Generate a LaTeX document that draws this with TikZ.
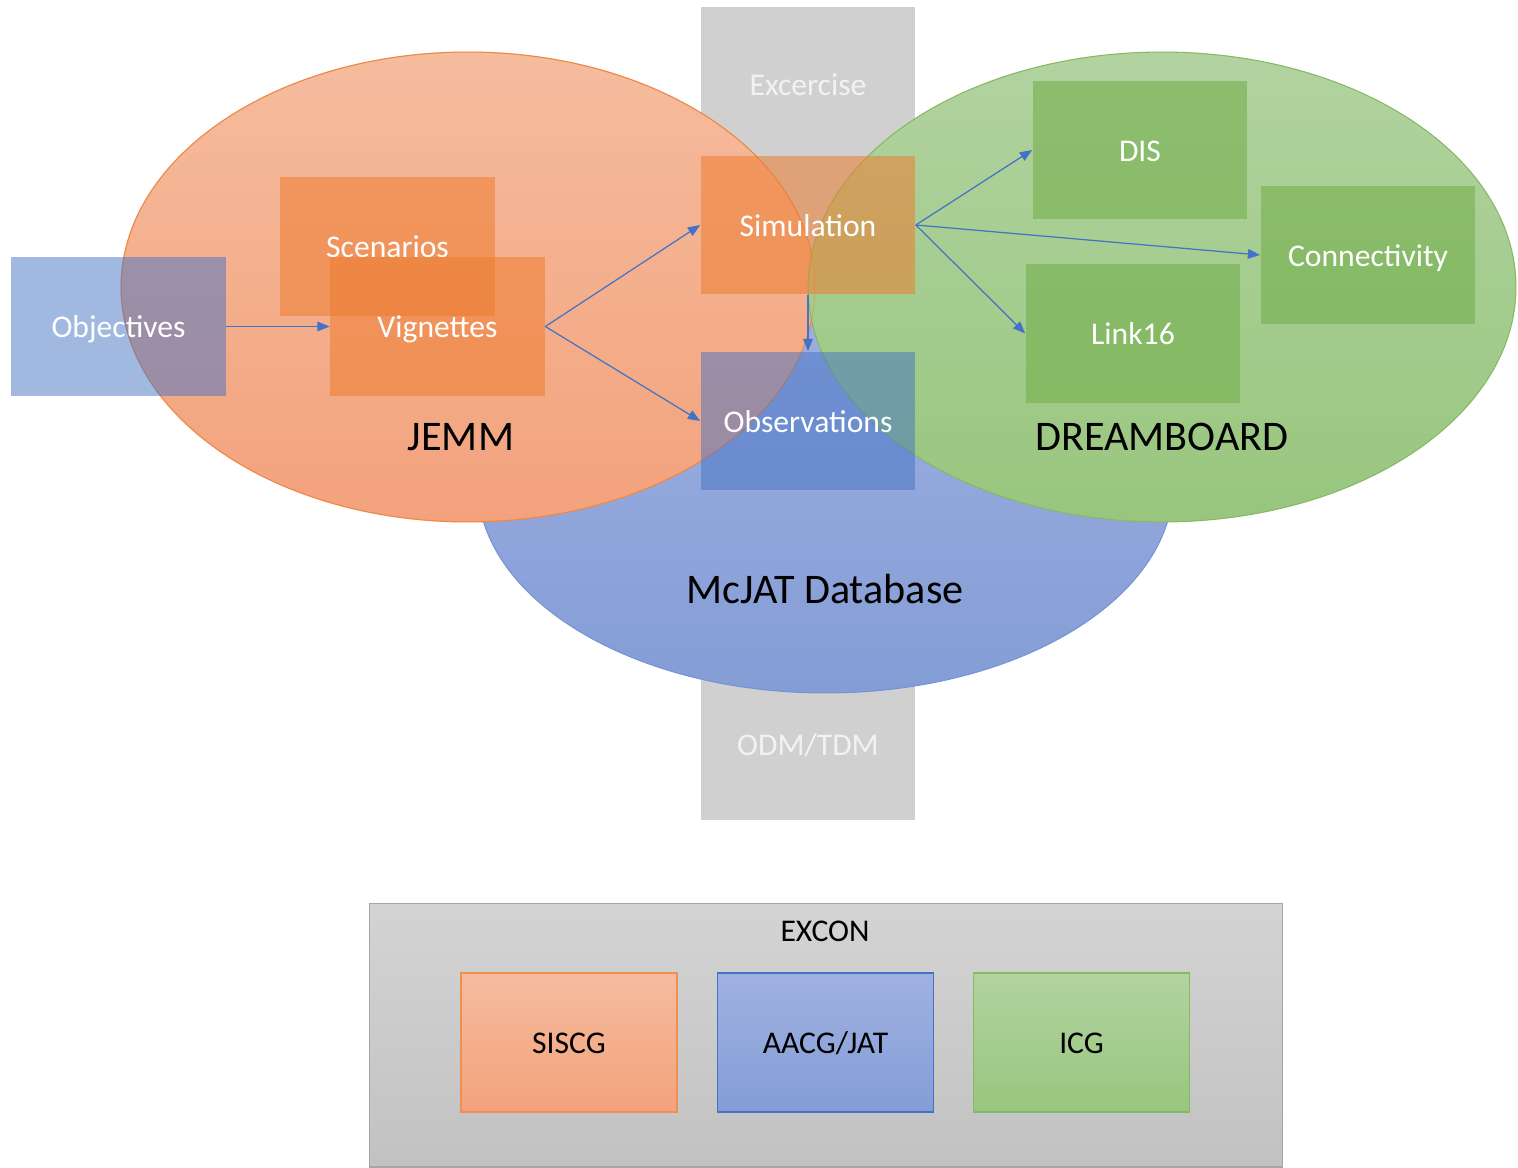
\documentclass[tikz,border=0pt]{standalone}
\usepackage{fontspec}
\setmainfont{Carlito}
\usetikzlibrary{arrows.meta,shapes.geometric}

\definecolor{orangeA}{HTML}{ED7D31}
\definecolor{blueA}{HTML}{4472C4}
\definecolor{greenA}{HTML}{70AD47}
\definecolor{columngray}{HTML}{D0D0D0}
\definecolor{labelwhite}{HTML}{F2F2F2}
\definecolor{orangeTop}{HTML}{F5BC9E}
\definecolor{orangeBot}{HTML}{F3A27C}
\definecolor{greenTop}{HTML}{B2D3A0}
\definecolor{greenBot}{HTML}{98C67E}
\definecolor{blueTop}{HTML}{A0B1E1}
\definecolor{blueBot}{HTML}{849DD6}

\tikzset{
  column/.style={fill=columngray, draw=none, minimum width=4.28cm, minimum height=16.26cm, inner sep=0pt},
  collabel/.style={text=labelwhite, font=\fontsize{18}{20}\selectfont, inner sep=0pt},
  region/.style={ellipse, inner sep=0pt, line width=0.6pt},
  biglabel/.style={text=black, font=\fontsize{24}{28}\selectfont, inner sep=0pt},
  box/.style={minimum width=4.30cm, minimum height=2.78cm, inner sep=0pt, draw=none,
              text height=12.8pt, text depth=0pt,
              fill opacity=0.55, text opacity=1, text=white, font=\fontsize{18}{20}\selectfont},
  orangebox/.style={box, fill=orangeA},
  bluebox/.style={box, fill=blueA, fill opacity=0.5},
  greenbox/.style={box, fill=greenA},
  groupbox/.style={minimum width=4.32cm, minimum height=2.78cm, inner sep=0pt, line width=0.6pt,
                   text height=12.8pt, text depth=0pt,
                   text=black, font=\fontsize{18}{20}\selectfont},
  flow/.style={draw=blueA, line width=0.7pt, -{Triangle[length=7pt,width=5.5pt]}},
}

\begin{document}
\begin{tikzpicture}[x=0.02cm, y=-0.02cm]
\useasboundingbox (0,0) rectangle (1518,1168);

% vertical exercise column
\node[column] (col) at (808,413.5) {};
\node[collabel] (exc) at (808,85) {Excercise};
\node[collabel] (odm) at (808,745) {ODM/TDM};

% overlapping regions
\node[region, minimum width=13.92cm, minimum height=8.40cm, draw=blueA!75,
      top color=blueTop, bottom color=blueBot] (mcjat) at (825.5,483) {};
\node[region, minimum width=13.88cm, minimum height=9.40cm, draw=orangeA!85,
      top color=orangeTop, bottom color=orangeBot] (jemm) at (468,287) {};
\node[region, minimum width=14.16cm, minimum height=9.40cm, draw=greenA!85,
      top color=greenTop, bottom color=greenBot] (dream) at (1162,287) {};
% the JEMM outline stays faintly visible where DREAMBOARD overlaps it
\draw[orangeA, line width=0.6pt, opacity=0.35] (jemm.center) ellipse [x radius=6.94cm, y radius=4.70cm];

% boxes
\node[bluebox] (obj) at (118.5,326.5) {Objectives};
\node[orangebox] (scen) at (387.5,246.5) {Scenarios};
\node[orangebox] (vig) at (437.5,326.5) {Vignettes};
\node[orangebox] (sim) at (808,225) {Simulation};
\node[bluebox] (obs) at (808,421) {Observations};
\node[greenbox] (dis) at (1140,150) {DIS};
\node[greenbox] (conn) at (1368,255) {Connectivity};
\node[greenbox] (link) at (1133,333.5) {Link16};

% region labels
\node[biglabel] (jemmlabel) at (461,437) {JEMM};
\node[biglabel] (dreamlabel) at (1162,437) {DREAMBOARD};
\node[biglabel] (mcjatlabel) at (825,589) {McJAT Database};

% data flow
\draw[flow] (obj.east) -- (vig.west);
\draw[flow] (vig.east) -- (sim.west);
\draw[flow] (vig.east) -- (obs.west);
\draw[flow] (sim.south) -- (obs.north);
\draw[flow] (sim.east) -- (dis.west);
\draw[flow] (sim.east) -- (conn.west);
\draw[flow] (sim.east) -- (link.west);

% exercise control groups
\node[minimum width=18.28cm, minimum height=5.28cm, inner sep=0pt, draw=black!35, line width=0.6pt,
      top color=black!17, bottom color=black!24] (excon) at (826,1035) {};
\node[text=black, font=\fontsize{18}{20}\selectfont, inner sep=0pt] (exconlabel) at (825,931) {EXCON};
\node[groupbox, draw=orangeA!85, top color=orangeTop, bottom color=orangeBot] (siscg) at (569,1042.5) {SISCG};
\node[groupbox, draw=blueA, top color=blueTop, bottom color=blueBot] (aacg) at (825.5,1042.5) {AACG/JAT};
\node[groupbox, draw=greenA!85, top color=greenTop, bottom color=greenBot] (icg) at (1081.5,1042.5) {ICG};
\end{tikzpicture}
\end{document}
